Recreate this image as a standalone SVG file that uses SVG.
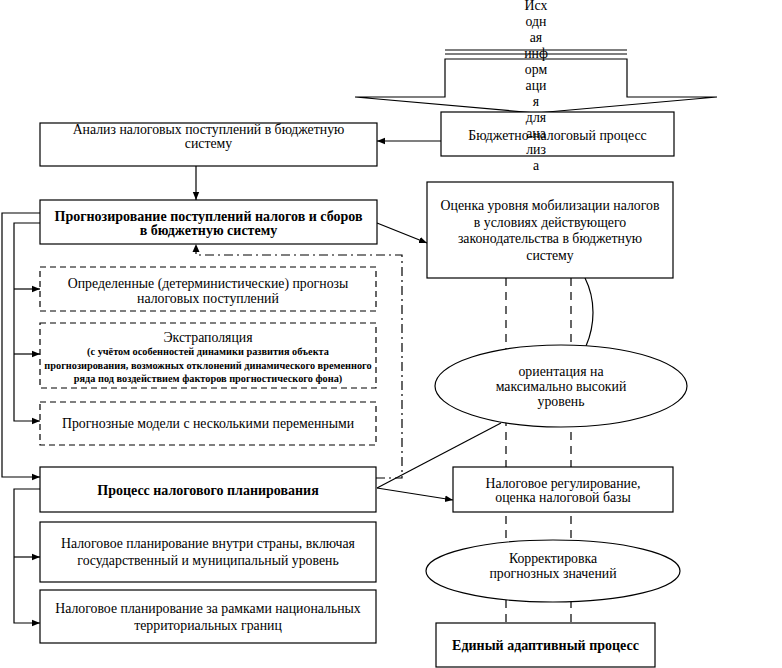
<svg xmlns="http://www.w3.org/2000/svg" width="782" height="668" viewBox="0 0 782 668">
<style>
.box{fill:#fff;stroke:#000;stroke-width:1.2}
.dbox{fill:#fff;stroke:#000;stroke-width:1.2;stroke-dasharray:6,4}
.ln{fill:none;stroke:#000;stroke-width:1.2}
.dl{fill:none;stroke:#000;stroke-width:1.2;stroke-dasharray:8,6}
.dd{fill:none;stroke:#000;stroke-width:1.2;stroke-dasharray:9,4,2,4}
text{font-family:"Liberation Serif","Times New Roman",serif;font-size:13.8px;fill:#000;text-anchor:middle}
.b{font-weight:bold;font-size:14px}
.s{font-size:10.3px;font-weight:bold}
</style>
<defs>
<marker id="ah" viewBox="0 0 10 10" refX="10" refY="5" markerWidth="8" markerHeight="8" markerUnits="userSpaceOnUse" orient="auto">
<path d="M0,1 L10,5 L0,9 Z" fill="#000"/>
</marker>
</defs>
<rect width="782" height="668" fill="#fff"/>
<g id="connectors">
<line class="ln" x1="445" y1="50" x2="627" y2="50"/>
<line class="ln" x1="445" y1="54" x2="627" y2="54"/>
<path class="ln" d="M445,59 L627,59 L627,97 L717,97 L536,113 L355,97 L445,97 Z" fill="#fff"/>
<line class="ln" x1="441" y1="141" x2="377" y2="141" marker-end="url(#ah)"/>
<line class="ln" x1="196" y1="166" x2="196" y2="200" marker-end="url(#ah)"/>
<line class="ln" x1="377" y1="223" x2="427" y2="243" marker-end="url(#ah)"/>
<polyline class="ln" points="40,213 2,213 2,477 40,477" marker-end="url(#ah)"/>
<polyline class="ln" points="40,223 14,223 14,421 40,421" marker-end="url(#ah)"/>
<line class="ln" x1="14" y1="289" x2="40" y2="289" marker-end="url(#ah)"/>
<line class="ln" x1="14" y1="354" x2="40" y2="354" marker-end="url(#ah)"/>
<polyline class="ln" points="40,489 14,489 14,623 40,623" marker-end="url(#ah)"/>
<line class="ln" x1="14" y1="557" x2="40" y2="557" marker-end="url(#ah)"/>
<polyline class="dd" points="376,478 402,478 402,255 196,255 196,250"/>
<path d="M196,244 L192.5,252 L199.5,252 Z" fill="#000"/>
<line class="dl" x1="506" y1="278" x2="506" y2="623"/>
<line class="dl" x1="571" y1="278" x2="571" y2="623"/>
<path class="ln" d="M585,278 C596,300 595,325 586,346"/>
<line class="ln" x1="501" y1="423" x2="377" y2="488"/>
<line class="ln" x1="377" y1="488" x2="453" y2="500" marker-end="url(#ah)"/>
</g>
<g id="source">
<text x="536" y="10">Исх</text>
<text x="536" y="26">одн</text>
<text x="536" y="42">ая</text>
<text x="536" y="58">инф</text>
<text x="536" y="74">орм</text>
<text x="536" y="90">аци</text>
<text x="536" y="106">я</text>
</g>
<g id="budget">
<rect class="box" x="441" y="112" width="233" height="44"/>
<text x="557.5" y="140">Бюджетно-налоговый процесс</text>
</g>
<g id="source-tail">
<text x="536" y="122">для</text>
<text x="536" y="138">ана</text>
<text x="536" y="154">лиз</text>
<text x="536" y="170">а</text>
</g>
<g id="analysis">
<rect class="box" x="40" y="123" width="337" height="43"/>
<text x="208.5" y="134">Анализ налоговых поступлений в бюджетную</text>
<text x="208.5" y="148">систему</text>
</g>
<g id="forecast">
<rect class="box" x="40" y="200" width="337" height="44"/>
<text class="b" x="208.5" y="221">Прогнозирование поступлений налогов и сборов</text>
<text class="b" x="208.5" y="235">в бюджетную систему</text>
</g>
<g id="deterministic">
<rect class="dbox" x="40" y="267" width="336" height="44"/>
<text x="208" y="288">Определенные (детерминистические) прогнозы</text>
<text x="208" y="303">налоговых поступлений</text>
</g>
<g id="extrapolation">
<rect class="dbox" x="40" y="323" width="336" height="65"/>
<text x="208" y="342">Экстраполяция</text>
<text class="s" x="208" y="354.5">(с учётом особенностей динамики развития объекта</text>
<text class="s" x="208" y="368.5">прогнозирования, возможных отклонений динамического временного</text>
<text class="s" x="208" y="381.5">ряда под воздействием факторов прогностического фона)</text>
</g>
<g id="multivar">
<rect class="dbox" x="40" y="402" width="336" height="43"/>
<text x="208" y="428">Прогнозные модели с несколькими переменными</text>
</g>
<g id="planning">
<rect class="box" x="40" y="467" width="336" height="45"/>
<text class="b" x="208" y="495">Процесс налогового планирования</text>
</g>
<g id="domestic">
<rect class="box" x="40" y="522" width="336" height="60"/>
<text x="208" y="548">Налоговое планирование внутри страны, включая</text>
<text x="208" y="565">государственный и муниципальный уровень</text>
</g>
<g id="international">
<rect class="box" x="40" y="590" width="336" height="53"/>
<text x="208" y="613">Налоговое планирование за рамками национальных</text>
<text x="208" y="630">территориальных границ</text>
</g>
<g id="assessment">
<rect class="box" x="427" y="182" width="246" height="96"/>
<text x="550" y="210">Оценка уровня мобилизации налогов</text>
<text x="550" y="227">в условиях действующего</text>
<text x="550" y="243">законодательства в бюджетную</text>
<text x="550" y="260">систему</text>
</g>
<g id="orientation">
<ellipse class="box" cx="561" cy="386" rx="126" ry="41"/>
<text x="561" y="376">ориентация на</text>
<text x="561" y="391">максимально высокий</text>
<text x="561" y="406">уровень</text>
</g>
<g id="regulation">
<rect class="box" x="453" y="467" width="220" height="45"/>
<text x="563" y="488">Налоговое регулирование,</text>
<text x="563" y="502">оценка налоговой базы</text>
</g>
<g id="correction">
<ellipse class="box" cx="553" cy="571" rx="127" ry="31"/>
<text x="553" y="563">Корректировка</text>
<text x="553" y="578">прогнозных значений</text>
</g>
<g id="adaptive">
<rect class="box" x="436" y="623" width="219" height="44"/>
<text class="b" x="545.5" y="650">Единый адаптивный процесс</text>
</g>
</svg>
